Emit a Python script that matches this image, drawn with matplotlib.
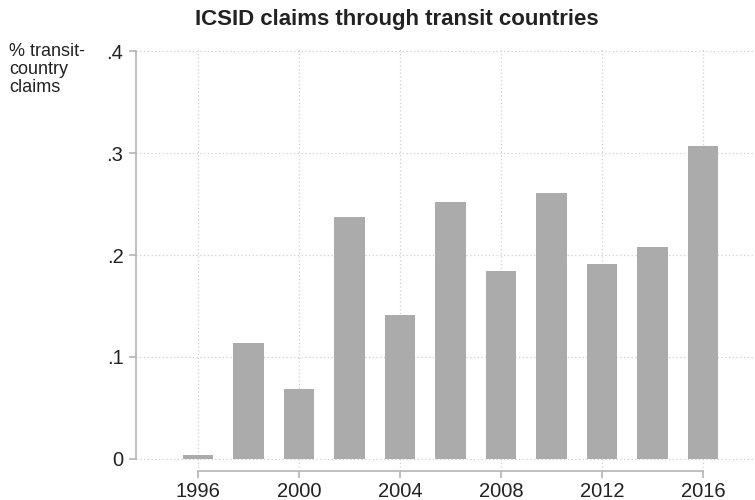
import matplotlib
matplotlib.use('Agg')
import matplotlib.pyplot as plt

plt.rcParams['font.family'] = ['Liberation Sans', 'DejaVu Sans']

years = [1996, 1998, 2000, 2002, 2004, 2006, 2008, 2010, 2012, 2014, 2016]
share = [0.004, 0.114, 0.069, 0.237, 0.141, 0.252, 0.184, 0.261, 0.191, 0.208, 0.307]
xticks = [1996, 2000, 2004, 2008, 2012, 2016]
yticks = [0, 0.1, 0.2, 0.3, 0.4]
ylabels = ['0', '.1', '.2', '.3', '.4']

fig = plt.figure(figsize=(7.55, 5.0), dpi=100)
ax = fig.add_axes([0.1801, 0.058, 0.8199, 0.844])

ax.bar(years, share, width=1.2, color='#aaabaa', zorder=2)

ax.set_xlim(1993.54, 2018.06)
ax.set_ylim(-0.0118, 0.402)
ax.set_xticks(xticks)
ax.set_yticks(yticks)
ax.set_yticklabels(ylabels)

ax.grid(True, color='#cfcfcf', linestyle=(0, (1, 2)), linewidth=0.9, zorder=0)

for side in ['top', 'right']:
    ax.spines[side].set_visible(False)
ax.spines['left'].set_bounds(0, 0.4)
ax.spines['bottom'].set_bounds(1996, 2016)
for side in ['left', 'bottom']:
    ax.spines[side].set_color('#b4b4b4')
    ax.spines[side].set_linewidth(1.2)

ax.tick_params(axis='both', colors='#b4b4b4', labelcolor='#222222',
               labelsize=14.5, length=5, width=1.2)
ax.tick_params(axis='y', pad=4)
ax.tick_params(axis='x', pad=3)

fig.text(0.525, 0.962, 'ICSID claims through transit countries',
         ha='center', va='center', fontsize=16, fontweight='bold', color='#222222')
fig.text(0.012, 0.914, '% transit-\ncountry\nclaims', ha='left', va='top',
         fontsize=13, color='#222222', linespacing=1.08)

fig.savefig('out.png', dpi=100)
